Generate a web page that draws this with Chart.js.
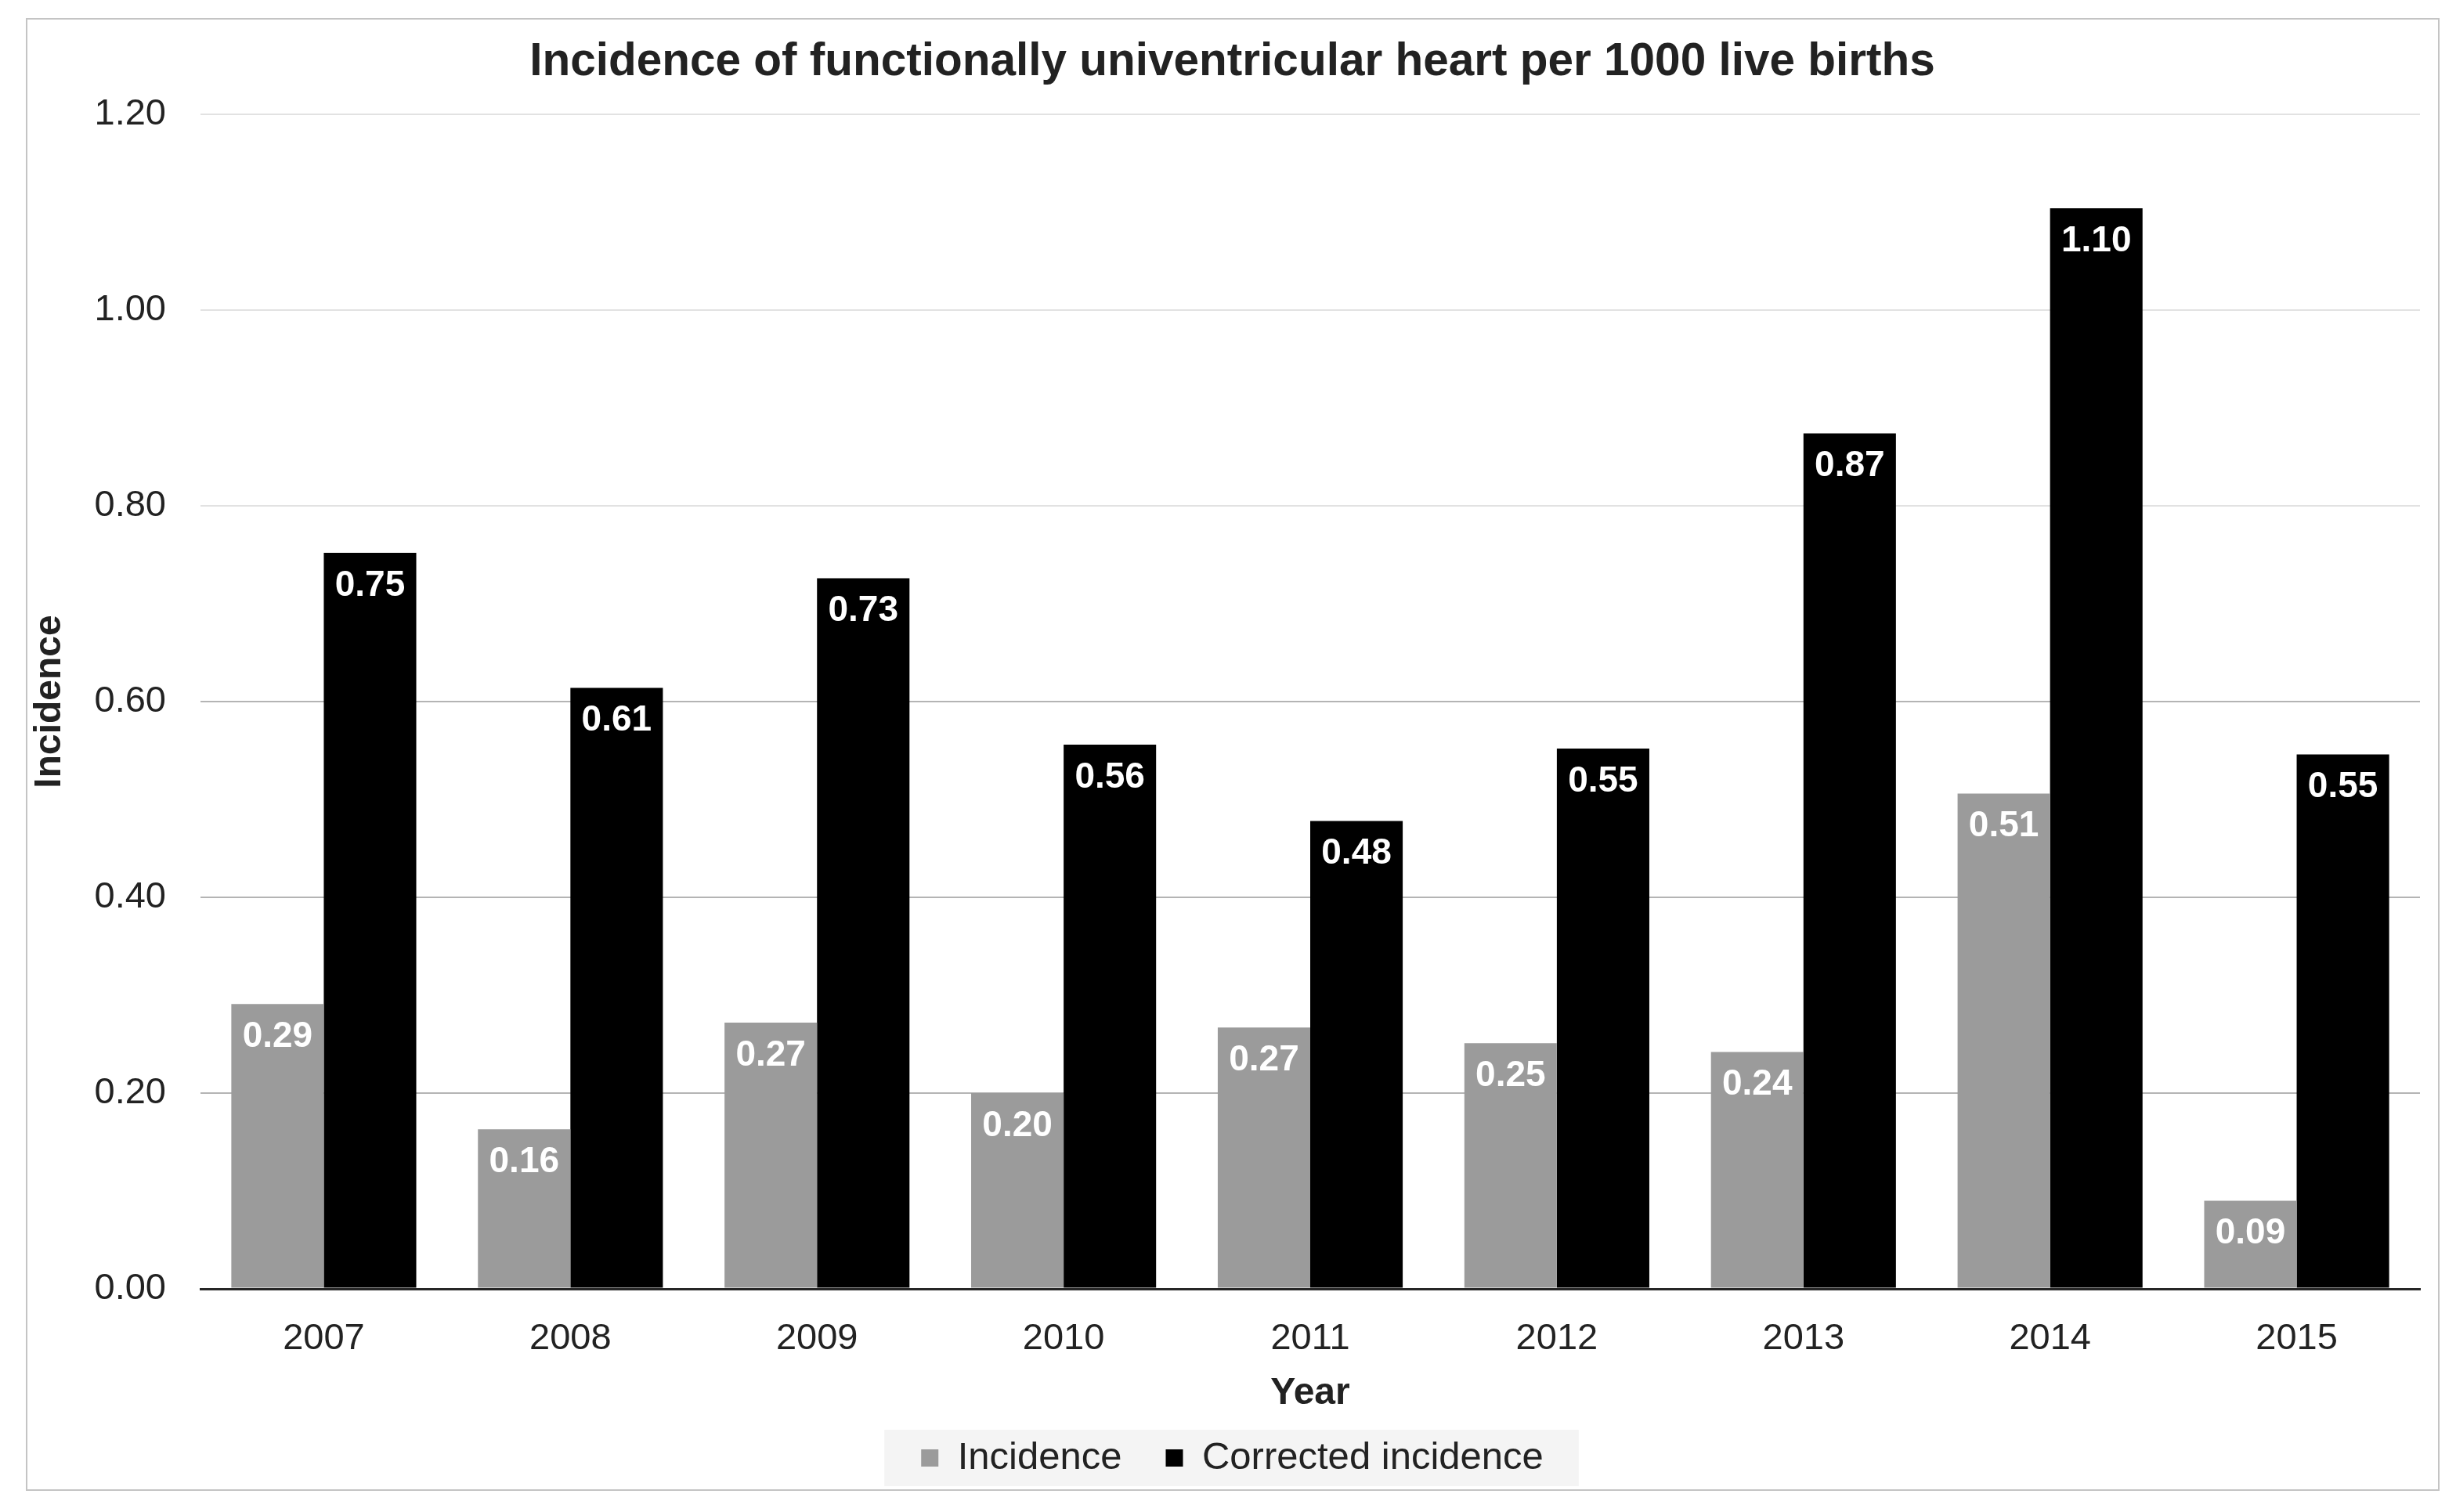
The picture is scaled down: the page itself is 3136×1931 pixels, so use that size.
<!DOCTYPE html>
<html>
<head>
<meta charset="utf-8">
<script src="https://cdn.jsdelivr.net/npm/chart.js@4.4.1/dist/chart.umd.min.js"></script>
<style>
body { margin: 0; background: #fff; }
#marco { position: absolute; left: 33px; top: 23px; width: 3078px; height: 1877px; border: 2px solid #c4c4c4; }
</style>
</head>
<body>
<div id="marco"><canvas id="grafico"></canvas></div>
<script>
// Datos
const anios = ["2007", "2008", "2009", "2010", "2011", "2012", "2013", "2014", "2015"];
const incidencia = [0.291, 0.163, 0.272, 0.200, 0.267, 0.251, 0.242, 0.506, 0.090];
const corregida = [0.752, 0.614, 0.726, 0.556, 0.478, 0.552, 0.874, 1.104, 0.546];
const ejeMin = 0;
const ejeMax = 1.2;
const ejePaso = 0.2;

Chart.defaults.font.family = "'Liberation Sans', Arial, sans-serif";
Chart.defaults.color = "#222";

// Etiquetas blancas dentro de cada barra
const etiquetas = {
    id: "etiquetas",
    afterDatasetsDraw(chart) {
        const ctx = chart.ctx;
        ctx.save();
        ctx.font = "bold 46px 'Liberation Sans', Arial, sans-serif";
        ctx.fillStyle = "#fff";
        ctx.textAlign = "center";
        ctx.textBaseline = "middle";
        chart.data.datasets.forEach(function (ds, i) {
            chart.getDatasetMeta(i).data.forEach(function (barra, j) {
                ctx.fillText(ds.data[j].toFixed(2), barra.x, barra.y + 42);
            });
        });
        ctx.restore();
    }
};

// Fondo gris claro detras de la leyenda
const fondoLeyenda = {
    id: "fondoLeyenda",
    beforeDraw(chart) {
        const cajas = chart.legend && chart.legend.legendHitBoxes;
        if (!cajas || !cajas.length) return;
        const primera = cajas[0];
        const ultima = cajas[cajas.length - 1];
        const cy = primera.top + primera.height / 2;
        const ctx = chart.ctx;
        ctx.save();
        ctx.fillStyle = "#f4f4f4";
        ctx.fillRect(primera.left - 47, cy - 36, ultima.left + ultima.width - primera.left + 92, 72);
        ctx.restore();
    }
};

let ctx = document.getElementById("grafico").getContext("2d");

let grafico = new Chart(ctx, {
    type: "bar",
    data: {
        labels: anios,
        datasets: [{
            label: "Incidence",
            data: incidencia,
            backgroundColor: "#9b9b9b",
            borderWidth: 0,
            categoryPercentage: 0.75,
            barPercentage: 1.0
        }, {
            label: "Corrected incidence",
            data: corregida,
            backgroundColor: "#000",
            borderWidth: 0,
            categoryPercentage: 0.75,
            barPercentage: 1.0
        }]
    },
    options: {
        responsive: true,
        maintainAspectRatio: false,
        animation: false,
        layout: { padding: { left: 22, right: 23, top: 20, bottom: 5.5 } },
        plugins: {
            title: {
                display: true,
                text: "Incidence of functionally univentricular heart per 1000 live births",
                color: "#222",
                font: { size: 58.5, weight: "bold" },
                padding: { top: 0, bottom: 30.8 }
            },
            legend: {
                position: "bottom",
                labels: {
                    boxWidth: 22,
                    boxHeight: 22,
                    padding: 56,
                    color: "#222",
                    font: { size: 49 }
                }
            },
            tooltip: { enabled: false }
        },
        scales: {
            x: {
                grid: { display: false, drawTicks: false },
                border: { display: true, color: "#262626", width: 3 },
                ticks: { padding: 36, font: { size: 47 } },
                title: {
                    display: true,
                    text: "Year",
                    font: { size: 48, weight: "bold" },
                    padding: { top: 0, bottom: -27.3 }
                },
                afterFit(scale) { scale.height = 135.5; }
            },
            y: {
                min: ejeMin,
                max: ejeMax,
                ticks: {
                    stepSize: ejePaso,
                    padding: 44,
                    font: { size: 47 },
                    callback: function (v) { return v.toFixed(2); }
                },
                grid: {
                    drawTicks: false,
                    color: function (c) {
                        if (!c.tick) return "#e2e2e2";
                        if (c.tick.value === 0) return "#262626";
                        return c.tick.value <= 0.61 ? "#b4b4b4" : "#e2e2e2";
                    },
                    lineWidth: function (c) { return c.tick && c.tick.value === 0 ? 3 : 2; }
                },
                border: { display: false },
                title: {
                    display: true,
                    text: "Incidence",
                    font: { size: 48, weight: "bold" },
                    padding: { top: -22, bottom: 48 }
                },
                afterFit(scale) { scale.width = 199; }
            }
        }
    },
    plugins: [fondoLeyenda, etiquetas]
});
</script>
</body>
</html>
